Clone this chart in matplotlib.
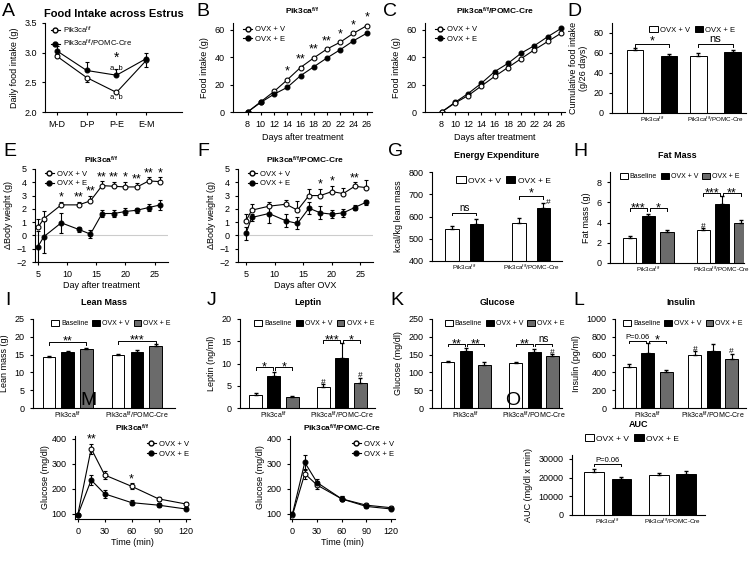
import numpy as np
import matplotlib.pyplot as plt

plt.rcParams['font.family'] = ['Liberation Sans', 'DejaVu Sans']
plt.rcParams['mathtext.fontset'] = 'custom'
plt.rcParams['mathtext.rm'] = 'Liberation Sans'
plt.rcParams['mathtext.it'] = 'Liberation Sans'
plt.rcParams['mathtext.bf'] = 'Liberation Sans:bold'
plt.rcParams['axes.linewidth'] = 0.8
plt.rcParams['xtick.major.width'] = 0.8
plt.rcParams['ytick.major.width'] = 0.8
plt.rcParams['xtick.major.size'] = 2.5
plt.rcParams['ytick.major.size'] = 2.5
plt.rcParams['xtick.labelsize'] = 6.5
plt.rcParams['ytick.labelsize'] = 6.5
plt.rcParams['axes.labelsize'] = 6.5

CTRL = r'Pik3ca$^{f/f}$'
POMC = r'Pik3ca$^{f/f}$/POMC-Cre'
CTRL_B = r'Pik3ca$^{\mathbf{f/f}}$'
POMC_B = r'Pik3ca$^{\mathbf{f/f}}$/POMC-Cre'
GRAY = '#6b6b6b'

# ---- A: food intake across estrus ----
estrus_phases = ['M-D', 'D-P', 'P-E', 'E-M']
a_ctrl = [2.94, 2.58, 2.33, 2.87]
a_ctrl_err = [0.03, 0.07, 0.03, 0.12]
a_pomc = [3.03, 2.70, 2.62, 2.90]
a_pomc_err = [0.09, 0.15, 0.10, 0.09]

# ---- B, C: cumulative food intake ----
food_days = [8, 10, 12, 14, 16, 18, 20, 22, 24, 26]
b_v = [0, 7.5, 15, 23.5, 32.5, 39.5, 46, 51, 57.5, 63]
b_e = [0, 7, 13, 18, 26.5, 33, 39.5, 45.5, 52, 57.5]
b_stars = ['', '', '', '*', '**', '**', '**', '*', '*', '*']
c_v = [0, 6.5, 12, 19, 26, 32.5, 39, 45.5, 51.5, 57.5]
c_e = [0, 7, 13.5, 21, 29.5, 35.5, 43, 48.5, 55, 61]

# ---- D: cumulative intake bars ----
d_v = [63, 57.5]
d_v_err = [2.5, 2.5]
d_e = [57.5, 61.5]
d_e_err = [1.5, 1.5]

# ---- E, F: body weight change ----
bw_days = [5, 6, 9, 12, 14, 16, 18, 20, 22, 24, 26]
e_v = [0.6, 1.25, 2.3, 2.3, 2.6, 3.75, 3.7, 3.65, 3.65, 4.1, 4.05]
e_v_err = [0.6, 0.6, 0.25, 0.25, 0.4, 0.35, 0.35, 0.4, 0.3, 0.3, 0.35]
e_e = [-0.85, -0.1, 0.95, 0.45, 0.1, 1.65, 1.65, 1.8, 1.9, 2.1, 2.3]
e_e_err = [1.15, 1.2, 0.75, 0.2, 0.3, 0.25, 0.3, 0.25, 0.2, 0.25, 0.35]
e_stars = ['', '', '*', '**', '**', '**', '**', '*', '**', '**', '*']
f_v = [1.1, 1.9, 2.2, 2.35, 1.9, 3.0, 3.0, 3.3, 3.15, 3.7, 3.6]
f_v_err = [0.5, 0.5, 0.3, 0.3, 0.7, 0.5, 0.5, 0.45, 0.4, 0.3, 0.55]
f_e = [0.15, 1.35, 1.65, 1.1, 0.9, 2.05, 1.7, 1.6, 1.7, 2.1, 2.5]
f_e_err = [0.5, 0.3, 0.7, 0.5, 0.45, 0.45, 0.5, 0.3, 0.3, 0.2, 0.2]
f_stars = ['', '', '', '', '', '', '*', '*', '', '**', '']

# ---- G: energy expenditure ----
g_v = [545, 572]
g_v_err = [12, 20]
g_e = [568, 638]
g_e_err = [22, 22]

# ---- H-L: baseline / OVX+V / OVX+E ----
h_base = [2.5, 3.25]
h_base_err = [0.15, 0.25]
h_v = [4.65, 5.85]
h_v_err = [0.15, 0.8]
h_e = [3.1, 3.95]
h_e_err = [0.2, 0.35]

i_base = [14.4, 15.0]
i_base_err = [0.3, 0.3]
i_v = [15.8, 15.8]
i_v_err = [0.3, 0.6]
i_e = [16.7, 17.5]
i_e_err = [0.2, 0.6]

j_base = [3.0, 4.8]
j_base_err = [0.3, 0.5]
j_v = [7.3, 11.3]
j_v_err = [0.8, 3.3]
j_e = [2.5, 5.7]
j_e_err = [0.3, 1.0]

k_base = [129, 126]
k_base_err = [4, 3]
k_v = [160, 157]
k_v_err = [8, 10]
k_e = [122, 145]
k_e_err = [6, 6]

l_base = [465, 595]
l_base_err = [35, 40]
l_v = [615, 640]
l_v_err = [110, 75]
l_e = [410, 555]
l_e_err = [20, 55]

# ---- M, N: glucose tolerance ----
gtt_time = [0, 15, 30, 60, 90, 120]
m_v = [95, 360, 255, 210, 160, 140]
m_v_err = [5, 20, 15, 12, 8, 6]
m_e = [95, 235, 180, 145, 135, 120]
m_e_err = [5, 20, 15, 10, 8, 6]
m_stars = ['', '**', '', '*', '', '']
n_v = [95, 260, 215, 160, 135, 125]
n_v_err = [5, 20, 15, 10, 8, 6]
n_e = [100, 305, 225, 160, 130, 120]
n_e_err = [5, 30, 15, 10, 8, 6]

# ---- O: AUC ----
o_v = [23000, 21500]
o_v_err = [1500, 1000]
o_e = [19000, 22000]
o_e_err = [1500, 1500]

fig = plt.figure(figsize=(7.5, 5.69), dpi=100)


def box(x0, y0, x1, y1):
    # pixel box -> figure fraction
    return [x0 / 750, 1 - y1 / 569, (x1 - x0) / 750, (y1 - y0) / 569]


def new_ax(rect, letter, lx, ly):
    ax = fig.add_axes(box(*rect))
    ax.spines['top'].set_visible(False)
    ax.spines['right'].set_visible(False)
    fig.text(lx / 750, 1 - ly / 569, letter, fontsize=14, va='top', ha='left')
    return ax


def line_plot(ax, x, y, err, filled, one_sided=True):
    fc = 'black' if filled else 'white'
    if one_sided:
        yerr = [np.zeros(len(err)), err]
    else:
        yerr = err
    ax.errorbar(x, y, yerr=yerr, color='black', lw=0.8, elinewidth=0.8,
                capsize=1.5, marker='o', ms=3.5, mfc=fc, mec='black', mew=0.8)


def line_legend(ax, labels, anchor, loc='upper left'):
    h1, = ax.plot([], [], 'o-', color='black', mfc='white', ms=3.5, lw=0.8)
    h2, = ax.plot([], [], 'o-', color='black', mfc='black', ms=3.5, lw=0.8)
    ax.legend([h1, h2], labels, loc=loc, bbox_to_anchor=anchor,
              frameon=False, fontsize=5.5, handlelength=1.2,
              handletextpad=0.4, labelspacing=0.3, borderaxespad=0)


def bracket(ax, x1, x2, y, h, text, fs=9, dy=0):
    ax.plot([x1, x1, x2, x2], [y - h, y, y, y - h], color='black', lw=0.7)
    ax.text((x1 + x2) / 2, y + dy, text, ha='center', va='bottom', fontsize=fs)


def bar_plot(ax, series, errs, colors, labels, width, offset, ylim, yticks,
             leg_anchor, tick_fs=5, leg_fs=5.5):
    n = len(series)
    groups = np.arange(2)
    for i in range(n):
        pos = groups + (i - (n - 1) / 2) * offset
        ax.bar(pos, series[i], width, color=colors[i], edgecolor='black',
               lw=0.7, label=labels[i])
        ax.errorbar(pos, series[i], yerr=[np.zeros(2), errs[i]], fmt='none',
                    ecolor='black', elinewidth=0.8, capsize=1.5)
    ax.set_ylim(*ylim)
    ax.set_yticks(yticks)
    ax.set_xticks(groups)
    ax.set_xticklabels([CTRL, POMC], fontsize=tick_fs)
    ax.tick_params(axis='x', length=0, pad=1.5)
    ax.legend(loc='upper center', bbox_to_anchor=leg_anchor, ncol=n,
              frameon=False, fontsize=leg_fs, handlelength=1.1,
              handleheight=0.9, columnspacing=0.6, handletextpad=0.3,
              borderaxespad=0)
    return groups


# A
ax = new_ax((45, 23, 182, 112), 'A', 2, 3)
x = np.arange(4)
line_plot(ax, x, a_ctrl, [[0, 0.07, 0, 0.12], [0.03, 0, 0.03, 0]], False, one_sided=False)
line_plot(ax, x, a_pomc, a_pomc_err, True)
ax.set_xlim(-0.4, 4.2)
ax.set_ylim(2.0, 3.5)
ax.set_yticks([2.0, 2.5, 3.0, 3.5])
ax.set_xticks(x)
ax.set_xticklabels(estrus_phases)
ax.set_ylabel('Daily food intake (g)')
ax.set_title('Food Intake across Estrus', fontsize=8, fontweight='bold', pad=4)
ax.text(2, 2.84, '*', ha='center', fontsize=10)
ax.text(2, 2.73, 'a, b', ha='center', fontsize=5.5)
ax.text(2, 2.23, 'a, b', ha='center', fontsize=5.5)
line_legend(ax, [CTRL, POMC], (0.02, 1.02))

# B and C
for rect, letter, lx, title, yv, ye, stars, xl in [
        ((233, 23, 372, 112), 'B', 196, CTRL_B, b_v, b_e, b_stars, (5.8, 26.8)),
        ((425, 23, 565, 112), 'C', 383, POMC_B, c_v, c_e, None, (5.5, 26.6))]:
    ax = new_ax(rect, letter, lx, 3)
    if letter == 'B':
        line_plot(ax, food_days, yv, np.full(10, 0.8), False)
        line_plot(ax, food_days, ye, np.full(10, 0.6), True)
    else:
        line_plot(ax, food_days, ye, np.full(10, 0.6), True)
        line_plot(ax, food_days, yv, np.full(10, 0.8), False)
    ax.set_xlim(*xl)
    ax.set_ylim(0, 65)
    ax.set_yticks([0, 20, 40, 60])
    ax.set_xticks(food_days)
    ax.set_xlabel('Days after treatment', labelpad=3)
    ax.set_ylabel('Food intake (g)')
    ax.set_title(title, fontsize=6, fontweight='bold', pad=6)
    line_legend(ax, ['OVX + V', 'OVX + E'], (0.05, 1.0))
    if stars:
        for d, v, s in zip(food_days, yv, stars):
            if s:
                ax.text(d, v + 1.5, s, ha='center', va='bottom', fontsize=9)

# D
ax = new_ax((612, 23, 746, 113), 'D', 567, 3)
bar_plot(ax, [d_v, d_e], [d_v_err, d_e_err], ['white', 'black'],
         ['OVX + V', 'OVX + E'], 0.26, 0.54, (0, 90), [0, 20, 40, 60, 80],
         (0.6, 1.0), tick_fs=4.5)
ax.set_xlim(-0.63, 1.48)
ax.set_ylabel('Cumulative food intake\n(g/26 days)')
bracket(ax, -0.27, 0.27, 69, 3, '*', dy=-3)
bracket(ax, 0.73, 1.27, 69, 3, 'ns', fs=8, dy=0)

# E and F
for rect, letter, lx, title, yv, yve, ye, yee, stars, xl, xlab in [
        ((35, 169, 168, 262), 'E', 3, CTRL_B, e_v, e_v_err, e_e, e_e_err,
         e_stars, (4.5, 27.3), 'Day after treatment'),
        ((238, 169, 373, 262), 'F', 197, POMC_B, f_v, f_v_err, f_e, f_e_err,
         f_stars, (3.6, 27.2), 'Days after OVX')]:
    ax = new_ax(rect, letter, lx, 143)
    ax.axhline(0, color='#cccccc', lw=0.8, zorder=0)
    line_plot(ax, bw_days, yv, yve, False)
    line_plot(ax, bw_days, ye, [yee, yee], True, one_sided=False)
    ax.set_xlim(*xl)
    ax.set_ylim(-2, 5)
    ax.set_yticks(range(-2, 6))
    ax.set_xticks([5, 10, 15, 20, 25])
    ax.set_xlabel(xlab, labelpad=1)
    ax.set_ylabel(r'$\Delta$Body weight (g)', labelpad=1)
    ax.set_title(title, fontsize=6, fontweight='bold', pad=4)
    line_legend(ax, ['OVX + V', 'OVX + E'], (0.05, 1.02))
    for d, v, err, s in zip(bw_days, yv, yve, stars):
        if s:
            ax.text(d, v + err - 0.15, s, ha='center', va='bottom', fontsize=9)

# G
ax = new_ax((432, 172, 562, 261), 'G', 388, 143)
bar_plot(ax, [g_v, g_e], [g_v_err, g_e_err], ['white', 'black'],
         ['OVX + V', 'OVX + E'], 0.2, 0.36, (400, 800),
         [400, 500, 600, 700, 800], (0.55, 0.99), tick_fs=4.5, leg_fs=6)
ax.set_xlim(-0.48, 1.46)
ax.set_ylabel('kcal/kg lean mass')
ax.set_title('Energy Expenditure', fontsize=6.5, fontweight='bold', pad=10)
bracket(ax, -0.18, 0.18, 617, 10, 'ns', fs=7)
bracket(ax, 0.82, 1.18, 690, 10, '*', dy=-12)
ax.text(1.22, 655, '#', fontsize=6)

# H-L share the three-bar layout
three_colors = ['white', 'black', GRAY]
three_labels = ['Baseline', 'OVX + V', 'OVX + E']

# H
ax = new_ax((610, 172, 744, 263), 'H', 573, 143)
bar_plot(ax, [h_base, h_v, h_e], [h_base_err, h_v_err, h_e_err],
         three_colors, three_labels, 0.18, 0.255, (0, 9), [0, 2, 4, 6, 8],
         (0.52, 1.02), tick_fs=4.5, leg_fs=5)
ax.set_xlim(-0.52, 1.3)
ax.set_ylabel('Fat mass (g)')
ax.set_title('Fat Mass', fontsize=6.5, fontweight='bold', pad=10)
bracket(ax, -0.255, -0.02, 5.4, 0.3, '***', dy=-0.6)
bracket(ax, 0.02, 0.255, 5.4, 0.3, '*', dy=-0.6)
bracket(ax, 0.745, 0.98, 6.9, 0.3, '***', dy=-0.6)
bracket(ax, 1.02, 1.255, 6.9, 0.3, '**', dy=-0.6)
ax.text(0.745, 3.5, '#', ha='center', fontsize=6)

# I
ax = new_ax((33, 319, 175, 408), 'I', 5, 292)
bar_plot(ax, [i_base, i_v, i_e], [i_base_err, i_v_err, i_e_err],
         three_colors, three_labels, 0.18, 0.27, (0, 25), [0, 5, 10, 15, 20, 25],
         (0.55, 1.02), leg_fs=5)
ax.set_xlim(-0.5, 1.55)
ax.set_ylabel('Lean mass (g)')
ax.set_title('Lean Mass', fontsize=6.5, fontweight='bold', pad=10)
bracket(ax, -0.27, 0.27, 18.5, 0.8, '**', dy=-1.6)
bracket(ax, 0.73, 1.27, 18.8, 0.8, '***', dy=-1.6)

# J
ax = new_ax((240, 319, 375, 408), 'J', 207, 292)
bar_plot(ax, [j_base, j_v, j_e], [j_base_err, j_v_err, j_e_err],
         three_colors, three_labels, 0.19, 0.27, (0, 20), [0, 5, 10, 15, 20],
         (0.55, 1.02), leg_fs=5)
ax.set_xlim(-0.5, 1.49)
ax.set_ylabel('Leptin (ng/ml)')
ax.set_title('Leptin', fontsize=6.5, fontweight='bold', pad=10)
bracket(ax, -0.27, -0.02, 9.2, 0.6, '*', dy=-1.4)
bracket(ax, 0.02, 0.27, 9.2, 0.6, '*', dy=-1.4)
bracket(ax, 0.73, 0.98, 15.3, 0.6, '***', dy=-1.4)
bracket(ax, 1.02, 1.27, 15.3, 0.6, '*', dy=-1.4)
ax.text(0.73, 5.5, '#', ha='center', fontsize=6)
ax.text(1.27, 6.9, '#', ha='center', fontsize=6)

# K
ax = new_ax((432, 319, 562, 408), 'K', 390, 292)
bar_plot(ax, [k_base, k_v, k_e], [k_base_err, k_v_err, k_e_err],
         three_colors, three_labels, 0.19, 0.27, (0, 250),
         [0, 50, 100, 150, 200, 250], (0.56, 1.02), leg_fs=5)
ax.set_xlim(-0.5, 1.41)
ax.set_ylabel('Glucose (mg/dl)')
ax.set_title('Glucose', fontsize=6.5, fontweight='bold', pad=10)
bracket(ax, -0.27, -0.02, 180, 7, '**', dy=-17)
bracket(ax, 0.02, 0.27, 180, 7, '**', dy=-17)
bracket(ax, 0.73, 0.98, 180, 7, '**', dy=-17)
bracket(ax, 1.02, 1.27, 180, 7, 'ns', fs=7)
ax.text(1.27, 152, '#', ha='center', fontsize=6)

# L
ax = new_ax((615, 319, 746, 408), 'L', 573, 292)
bar_plot(ax, [l_base, l_v, l_e], [l_base_err, l_v_err, l_e_err],
         three_colors, three_labels, 0.2, 0.28, (0, 1000),
         [0, 200, 400, 600, 800, 1000], (0.52, 1.02), leg_fs=5)
ax.set_xlim(-0.5, 1.5)
ax.set_ylabel('Insulin (pg/ml)')
ax.set_title('Insulin', fontsize=6.5, fontweight='bold', pad=10)
bracket(ax, -0.28, -0.02, 750, 25, 'P=0.06', fs=5.5)
bracket(ax, 0.02, 0.28, 750, 25, '*', dy=-60)
ax.text(0.72, 640, '#', ha='center', fontsize=6)
ax.text(1.28, 615, '#', ha='center', fontsize=6)

# M and N
for rect, letter, lx, title, yv, yve, ye, yee, stars in [
        ((75, 436, 190, 519), 'M', 80, CTRL_B, m_v, m_v_err, m_e, m_e_err, m_stars),
        ((290, 436, 395, 519), 'N', 266, POMC_B, n_v, n_v_err, n_e, n_e_err, None)]:
    ax = new_ax(rect, letter, lx, 392)
    line_plot(ax, gtt_time, yv, [yve, yve], False, one_sided=False)
    line_plot(ax, gtt_time, ye, [yee, yee], True, one_sided=False)
    ax.set_xlim(-3, 125)
    ax.set_ylim(80, 410)
    ax.set_yticks([100, 200, 300, 400])
    ax.set_xticks([0, 30, 60, 90, 120])
    ax.set_xlabel('Time (min)', labelpad=1)
    ax.set_ylabel('Glucose (mg/dl)', labelpad=1)
    ax.set_title(title, fontsize=6, fontweight='bold', pad=3)
    line_legend(ax, ['OVX + V', 'OVX + E'], (1.02, 0.98), loc='upper right')
    if stars:
        for t, v, err, s in zip(gtt_time, yv, yve, stars):
            if s:
                ax.text(t, v + err - 8, s, ha='center', va='bottom', fontsize=9)

# O
ax = new_ax((572, 455, 705, 515), 'O', 505, 392)
bar_plot(ax, [o_v, o_e], [o_v_err, o_e_err], ['white', 'black'],
         ['OVX + V', 'OVX + E'], 0.3, 0.42, (0, 32000),
         [0, 10000, 20000, 30000], (0.45, 1.4), tick_fs=4.5, leg_fs=6)
ax.set_xlim(-0.55, 1.5)
ax.set_ylabel('AUC (mg/dl x min)')
ax.set_title('AUC', fontsize=6.5, fontweight='bold', pad=20)
bracket(ax, -0.21, 0.21, 27000, 1000, 'P=0.06', fs=5.5)

fig.savefig('out.png', dpi=100)
